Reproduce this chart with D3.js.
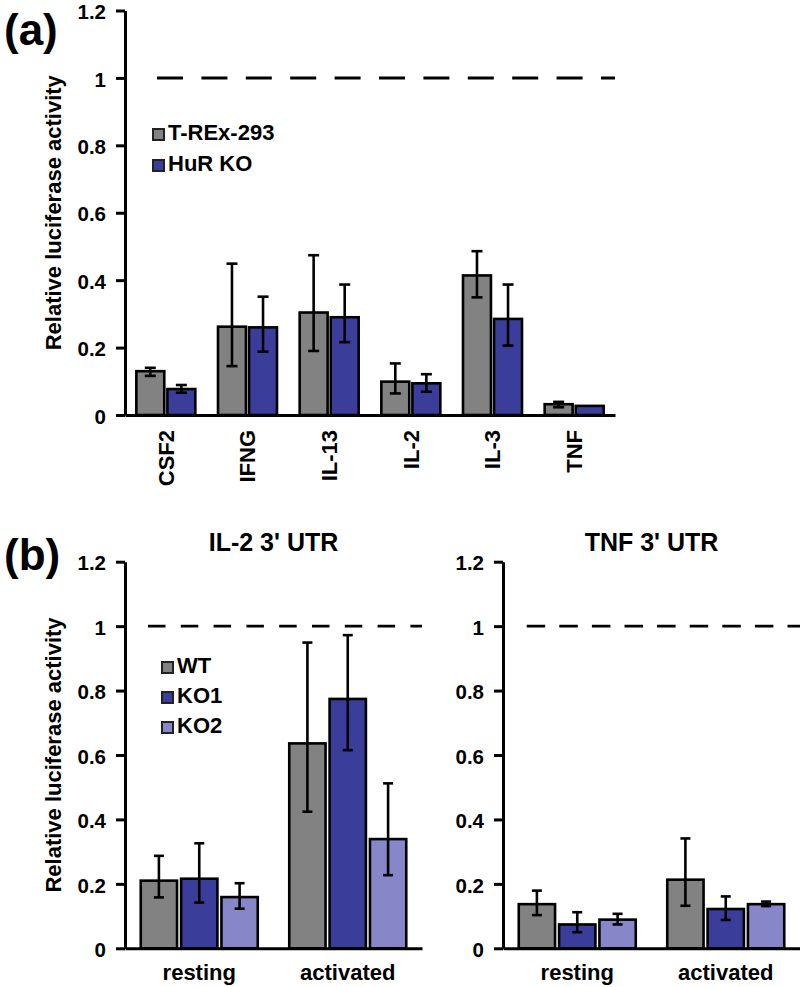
<!DOCTYPE html>
<html>
<head>
<meta charset="utf-8">
<script src="https://cdn.jsdelivr.net/npm/d3@7"></script>
<style>
  html, body { margin: 0; padding: 0; background: #fff; }
  svg { display: block; }
  text { font-family: "Liberation Sans", Arial, Helvetica, sans-serif; font-weight: bold; fill: #000; }
</style>
</head>
<body>
<div id="chart"></div>
<script>
// ---------------- DATA ----------------
const yTicks = [0, 0.2, 0.4, 0.6, 0.8, 1, 1.2];
const yTickLabels = ["0", "0.2", "0.4", "0.6", "0.8", "1", "1.2"];
const yTitle = "Relative luciferase activity";

// Panel (a)
const catsA = ["CSF2", "IFNG", "IL-13", "IL-2", "IL-3", "TNF"];
const seriesA = ["T-REx-293", "HuR KO"];
const valsA_TREx = [0.130, 0.262, 0.304, 0.099, 0.414, 0.032];
const errUpA_TREx = [0.010, 0.187, 0.170, 0.054, 0.072, 0.007];
const errDnA_TREx = [0.014, 0.117, 0.114, 0.035, 0.065, 0.009];
const valsA_HuR = [0.077, 0.260, 0.290, 0.094, 0.285, 0.027];
const errUpA_HuR = [0.012, 0.091, 0.097, 0.027, 0.102, 0.000];
const errDnA_HuR = [0.011, 0.072, 0.074, 0.025, 0.079, 0.000];

// Panel (b)
const catsB = ["resting", "activated"];
const seriesB = ["WT", "KO1", "KO2"];
const titleB1 = "IL-2 3' UTR";
const titleB2 = "TNF 3' UTR";
// IL-2 3' UTR
const valsIL2_WT = [0.210, 0.636];
const errUpIL2_WT = [0.077, 0.313];
const errDnIL2_WT = [0.052, 0.212];
const valsIL2_KO1 = [0.216, 0.774];
const errUpIL2_KO1 = [0.110, 0.198];
const errDnIL2_KO1 = [0.074, 0.159];
const valsIL2_KO2 = [0.159, 0.339];
const errUpIL2_KO2 = [0.043, 0.173];
const errDnIL2_KO2 = [0.036, 0.112];
// TNF 3' UTR
const valsTNF_WT = [0.137, 0.213];
const errUpTNF_WT = [0.042, 0.128];
const errDnTNF_WT = [0.034, 0.081];
const valsTNF_KO1 = [0.074, 0.122];
const errUpTNF_KO1 = [0.038, 0.039];
const errDnTNF_KO1 = [0.024, 0.034];
const valsTNF_KO2 = [0.089, 0.137];
const errUpTNF_KO2 = [0.018, 0.008];
const errDnTNF_KO2 = [0.015, 0.006];

// ---------------- STYLE ----------------
const colorsA = ["#828282", "#3a3e9a"];
const colorsB = ["#828282", "#3a3e9a", "#8786c8"];

const W = 800, H = 987;
const svg = d3.select("#chart").append("svg").attr("width", W).attr("height", H);

function buildRows(cats, series, vals, ups, dns) {
  return cats.map((c, i) => ({
    cat: c,
    items: series.map((s, j) => ({ s, j, v: vals[j][i], up: ups[j][i], dn: dns[j][i] }))
  }));
}

function drawPanel(opt) {
  const g = svg.append("g");
  const x0 = d3.scaleBand().domain(opt.cats).range(opt.xRange).padding(0);
  const x1 = d3.scaleBand().domain(opt.series).range([-opt.groupHalf, opt.groupHalf]).paddingInner(0.1);
  const y = d3.scaleLinear().domain([0, 1.2]).range(opt.yRange);
  const rows = buildRows(opt.cats, opt.series, opt.vals, opt.ups, opt.dns);

  // reference dashed line at 1
  g.append("line")
    .attr("x1", opt.xRange[0] + opt.dashStart).attr("x2", opt.xRange[1])
    .attr("y1", y(1)).attr("y2", y(1))
    .attr("stroke", "#000").attr("stroke-width", opt.dashWidth)
    .attr("stroke-dasharray", opt.dash);

  // bars
  const grp = g.selectAll("g.grp").data(rows).join("g")
    .attr("transform", d => `translate(${x0(d.cat) + x0.bandwidth() / 2},0)`);
  grp.selectAll("rect").data(d => d.items).join("rect")
    .attr("x", d => x1(d.s))
    .attr("width", x1.bandwidth())
    .attr("y", d => y(d.v))
    .attr("height", d => y(0) - y(d.v))
    .attr("fill", d => opt.colors[d.j])
    .attr("stroke", "#000").attr("stroke-width", 2.6);

  // error bars
  const eb = grp.selectAll("g.eb").data(d => d.items.filter(it => it.up + it.dn > 0)).join("g")
    .attr("transform", d => `translate(${x1(d.s) + x1.bandwidth() / 2},0)`);
  eb.append("line").attr("x1", 0).attr("x2", 0)
    .attr("y1", d => y(d.v + d.up)).attr("y2", d => y(d.v - d.dn))
    .attr("stroke", "#000").attr("stroke-width", 2.6);
  eb.append("line").attr("x1", -opt.cap).attr("x2", opt.cap)
    .attr("y1", d => y(d.v + d.up)).attr("y2", d => y(d.v + d.up))
    .attr("stroke", "#000").attr("stroke-width", 2.6);
  eb.append("line").attr("x1", -opt.cap).attr("x2", opt.cap)
    .attr("y1", d => y(d.v - d.dn)).attr("y2", d => y(d.v - d.dn))
    .attr("stroke", "#000").attr("stroke-width", 2.6);

  // y axis
  const ya = g.append("g").attr("transform", `translate(${opt.xRange[0]},0)`)
    .call(d3.axisLeft(y).tickValues(yTicks).tickFormat((d, i) => yTickLabels[i])
      .tickSize(9).tickSizeOuter(0).tickPadding(10));
  ya.select(".domain").attr("stroke-width", 3);
  ya.selectAll(".tick line").attr("stroke-width", 3);
  ya.selectAll(".tick text").style("font-size", "20.5px").attr("font-family", null).attr("dy", "0.4em");

  // x axis
  const xa = g.append("g").attr("transform", `translate(0,${y(0)})`)
    .call(d3.axisBottom(x0).tickSize(0).tickSizeOuter(0));
  xa.select(".domain").attr("stroke-width", 3);
  xa.selectAll(".tick text").attr("font-family", null).style("font-size", "22px");
  if (opt.rotateLabels) {
    xa.selectAll(".tick text")
      .attr("transform", "rotate(-90)")
      .attr("x", -15).attr("y", 0).attr("dy", "0.35em")
      .attr("text-anchor", "end");
  } else {
    xa.selectAll(".tick text").attr("y", opt.xLabelOffset).attr("dy", 0);
  }

  // y title
  if (opt.yTitle) {
    g.append("text")
      .attr("transform", `translate(${opt.yTitleX},${(opt.yRange[0] + opt.yRange[1]) / 2}) rotate(-90)`)
      .attr("text-anchor", "middle")
      .style("font-size", "22px")
      .text(yTitle);
  }

  // panel title
  if (opt.title) {
    g.append("text")
      .attr("x", (opt.xRange[0] + opt.xRange[1]) / 2)
      .attr("y", opt.titleY)
      .attr("text-anchor", "middle")
      .style("font-size", "25px")
      .text(opt.title);
  }

  // legend
  if (opt.legend) {
    const lg = g.append("g").attr("transform", `translate(${opt.legend.x},${opt.legend.y})`);
    const li = lg.selectAll("g").data(opt.series).join("g")
      .attr("transform", (d, i) => `translate(0,${i * opt.legend.step})`);
    li.append("rect").attr("x", 0).attr("y", -11).attr("width", 11).attr("height", 11)
      .attr("fill", (d, i) => opt.colors[i]).attr("stroke", "#222").attr("stroke-width", 2);
    li.append("text").attr("x", opt.legend.textDx).attr("y", 0)
      .style("font-size", "22px").text(d => d);
  }
  return g;
}

// Panel (a)
drawPanel({
  cats: catsA, series: seriesA,
  vals: [valsA_TREx, valsA_HuR], ups: [errUpA_TREx, errUpA_HuR], dns: [errDnA_TREx, errDnA_HuR],
  colors: colorsA,
  xRange: [125, 615], yRange: [415, 10.5], groupHalf: 29.5, cap: 5.5,
  dash: "26 18.4", dashStart: 32, dashWidth: 3,
  rotateLabels: true, yTitle: true, yTitleX: 61,
  legend: { x: 153, y: 140, step: 31, textDx: 15 }
});

// Panel (b) left
drawPanel({
  cats: catsB, series: seriesB,
  vals: [valsIL2_WT, valsIL2_KO1, valsIL2_KO2],
  ups: [errUpIL2_WT, errUpIL2_KO1, errUpIL2_KO2],
  dns: [errDnIL2_WT, errDnIL2_KO1, errDnIL2_KO2],
  colors: colorsB,
  xRange: [125, 422], yRange: [948.3, 561.7], groupHalf: 58.5, cap: 5,
  dash: "17.5 15.3", dashStart: 23, dashWidth: 2.6,
  rotateLabels: false, xLabelOffset: 32, yTitle: true, yTitleX: 61,
  title: titleB1, titleY: 551,
  legend: { x: 162, y: 673, step: 30, textDx: 15 }
});

// Panel (b) right
drawPanel({
  cats: catsB, series: seriesB,
  vals: [valsTNF_WT, valsTNF_KO1, valsTNF_KO2],
  ups: [errUpTNF_WT, errUpTNF_KO1, errUpTNF_KO2],
  dns: [errDnTNF_WT, errDnTNF_KO1, errDnTNF_KO2],
  colors: colorsB,
  xRange: [503, 800], yRange: [948.3, 561.7], groupHalf: 58.5, cap: 5,
  dash: "18.5 14.1", dashStart: 23.7, dashWidth: 2.6,
  rotateLabels: false, xLabelOffset: 32, yTitle: false,
  title: titleB2, titleY: 551
});

// Panel letters
svg.append("text").attr("x", 4).attr("y", 45).style("font-size", "44px").text("(a)");
svg.append("text").attr("x", 4).attr("y", 570).style("font-size", "44px").text("(b)");
</script>
</body>
</html>
